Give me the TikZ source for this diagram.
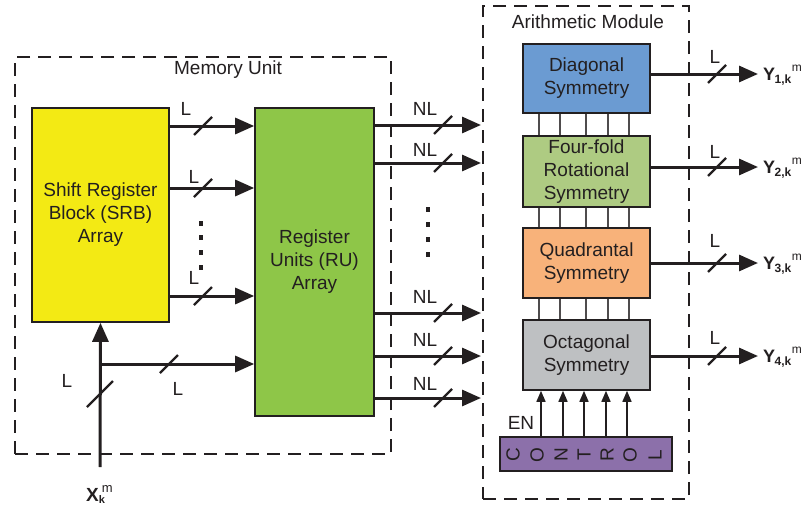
\documentclass[tikz,border=0pt]{standalone}
\usepackage{fontspec}
\setmainfont{Liberation Sans}
\usetikzlibrary{arrows.meta}
\definecolor{srbY}{RGB}{243,234,20}
\definecolor{ruG}{RGB}{142,198,72}
\definecolor{diagB}{RGB}{107,155,210}
\definecolor{fourG}{RGB}{174,203,130}
\definecolor{quadO}{RGB}{248,178,122}
\definecolor{octG}{RGB}{190,192,194}
\definecolor{ctrlP}{RGB}{140,112,170}
\definecolor{ink}{RGB}{35,31,32}
\begin{document}
\begin{tikzpicture}[x=1pt,y=-1pt,
  box/.style={draw=ink, line width=1.6pt, inner sep=0pt, align=center, text=ink, font=\fontsize{19}{23}\selectfont},
  arr/.style={draw=ink, line width=3pt, -{Triangle[length=19pt,width=16pt]}},
  sarr/.style={draw=ink, line width=1.6pt, -{Triangle[length=11pt,width=9pt]}},
  slashln/.style={draw=ink, line width=2.2pt},
  thinln/.style={draw=ink!80, line width=1.1pt},
  dashbox/.style={draw=ink, line width=1.6pt, dash pattern=on 13pt off 8pt, inner sep=0pt},
  lbl/.style={font=\fontsize{19}{20}\selectfont, inner sep=0pt, text=ink},
  ctl/.style={font=\fontsize{19}{19}\selectfont, inner sep=0pt, rotate=90, text=ink}
]
\useasboundingbox (0,0) rectangle (804,506);

% dashed containers
\node[dashbox, minimum width=376pt, minimum height=397pt] (mem) at (203,255.5) {};
\node[dashbox, minimum width=206pt, minimum height=493pt] (arith) at (586,252.5) {};
\node[lbl] (memt) at (228,70) {Memory Unit};
\node[lbl] (aritht) at (588,22) {Arithmetic Module};

% main blocks
\node[box, fill=srbY, minimum width=137pt, minimum height=214pt] (srb) at (100.5,215) {Shift Register\\Block (SRB)\\Array};
\node[box, fill=ruG, minimum width=119pt, minimum height=308pt] (ru) at (314.5,262) {Register\\Units (RU)\\Array};

\node[box, fill=diagB, minimum width=127pt, minimum height=69pt] (diag) at (586.5,78.5) {Diagonal\\Symmetry};
\node[box, fill=fourG, minimum width=127pt, minimum height=71pt] (four) at (586.5,171.5) {Four-fold\\Rotational\\Symmetry};
\node[box, fill=quadO, minimum width=127pt, minimum height=70pt] (quad) at (586.5,263) {Quadrantal\\Symmetry};
\node[box, fill=octG, minimum width=127pt, minimum height=70pt] (oct) at (586.5,355) {Octagonal\\Symmetry};
\node[box, fill=ctrlP, minimum width=172pt, minimum height=34pt] (ctrl) at (586,454) {};
\foreach \ch/\xx [count=\i] in {C/513,O/537,N/561,T/584,R/607,O/630,L/655}
  \node[ctl] (c\i) at (\xx,455) {\ch};

% SRB -> RU
\foreach \yy/\ly/\lx [count=\i] in {126/109/186,188/177/194,296/278/194}{
  \coordinate (sr\i) at (0,\yy);
  \draw[arr] (srb.east |- sr\i) -- (ru.west |- sr\i);
  \draw[slashln] (203,\yy) +(-9,9) -- +(9,-9);
  \node[lbl] (sl\i) at (\lx,\ly) {L};
}
\foreach \yy in {223,237,252,267}
  \fill[ink] (201,\yy) +(-2.3,-2.5) rectangle +(2.3,2.5);

% input
\coordinate (xin) at (100,467);
\coordinate (br) at (100,364);
\draw[arr] (xin) -- (srb.south);
\draw[arr] (br) -- (ru.west |- br);
\draw[slashln] (100,394) +(-13,13) -- +(13,-13);
\draw[slashln] (169,364) +(-9,9) -- +(9,-9);
\node[lbl] (lin1) at (67,381) {L};
\node[lbl] (lin2) at (178,389) {L};
\node[lbl, font=\fontsize{19}{20}\selectfont\bfseries, anchor=base west] (xlab) at (86,501)
  {X\raisebox{-2pt}{\rlap{\fontsize{11}{11}\selectfont k}}\hspace{3pt}\raisebox{9pt}{\fontsize{13}{13}\selectfont\mdseries m}};

% RU -> arithmetic
\foreach \yy/\ly [count=\i] in {125/109,163/150,313/297,356/340,398/384}{
  \coordinate (nl\i) at (481,\yy);
  \draw[arr] (ru.east |- nl\i) -- (nl\i);
  \draw[slashln] (443,\yy) +(-9,9) -- +(9,-9);
  \node[lbl] (nll\i) at (425,\ly) {NL};
}
\foreach \yy in {209,224,239,254}
  \fill[ink] (428,\yy) +(-2.3,-2.5) rectangle +(2.3,2.5);

% inter-block thin lines
\foreach \xx in {539,560,586,608,629}{
  \draw[thinln] (diag.south -| \xx,0) -- (four.north -| \xx,0);
  \draw[thinln] (four.south -| \xx,0) -- (quad.north -| \xx,0);
  \draw[thinln] (quad.south -| \xx,0) -- (oct.north -| \xx,0);
}
% control arrows
\foreach \xx [count=\i] in {541,563,584,606,627}{
  \coordinate (ca\i) at (\xx,0);
  \draw[sarr] (ctrl.north -| ca\i) -- (oct.south -| ca\i);
}
\node[lbl] (en) at (521,423) {EN};

% outputs
\foreach \nm/\yy/\ly/\n in {diag/74/57/1,four/167/152/2,quad/263/241/3,oct/356/338/4}{
  \coordinate (ye\n) at (758,\yy);
  \draw[arr] (\nm.east |- ye\n) -- (ye\n);
  \draw[slashln] (717,\yy) +(-9,9) -- +(9,-9);
  \node[lbl] (yl\n) at (715,\ly) {L};
  \node[lbl, anchor=base west, font=\fontsize{18}{20}\selectfont\bfseries] (yo\n) at (763,\yy+6)
    {Y\kern-0.5pt\raisebox{-3pt}{\fontsize{12}{12}\selectfont \n,k}\kern0.5pt\raisebox{9pt}{\fontsize{12}{12}\selectfont\mdseries m}};
}
\end{tikzpicture}
\end{document}
